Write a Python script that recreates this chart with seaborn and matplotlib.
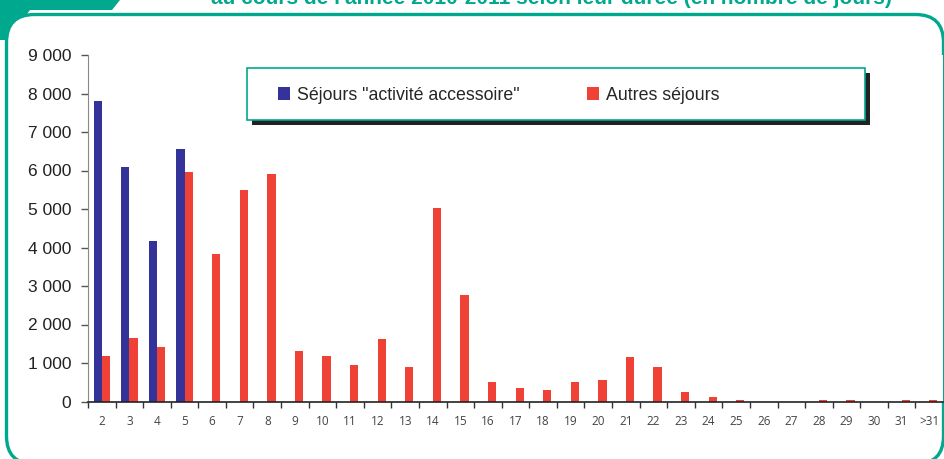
import numpy as np
import pandas as pd
import seaborn as sns
import matplotlib.pyplot as plt
from matplotlib.patches import FancyBboxPatch, Polygon, Rectangle, Patch
from matplotlib.transforms import IdentityTransform

# durée du séjour (en jours)
durees = ["2", "3", "4", "5", "6", "7", "8", "9", "10", "11", "12", "13", "14", "15", "16",
          "17", "18", "19", "20", "21", "22", "23", "24", "25", "26", "27", "28", "29", "30",
          "31", ">31"]
accessoire = [7800, 6100, 4170, 6560, 0, 0, 0, 0, 0, 0, 0, 0, 0, 0, 0,
              0, 0, 0, 0, 0, 0, 0, 0, 0, 0, 0, 0, 0, 0, 0, 0]
autres = [1190, 1650, 1420, 5960, 3840, 5500, 5910, 1310, 1180, 940, 1620, 890, 5020, 2760, 500,
          350, 290, 500, 550, 1160, 900, 250, 120, 40, 0, 0, 40, 40, 0, 40, 40]
series = ['Séjours "activité accessoire"', "Autres séjours"]
couleurs = ["#333399", "#EF4136"]
vert = "#00A88E"

df = pd.DataFrame({
    "duree": durees * 2,
    "nombre": accessoire + autres,
    "type": [series[0]] * len(durees) + [series[1]] * len(durees),
})

sns.set_style("white")
plt.rcParams["font.family"] = ["Liberation Sans", "DejaVu Sans"]

W, H = 944, 459
fig = plt.figure(figsize=(W / 100, H / 100), dpi=100)
ax = fig.add_axes([88 / W, 1 - 401.5 / H, 855 / W, 346.5 / H])

sns.barplot(data=df, x="duree", y="nombre", hue="type", order=durees,
            hue_order=series, palette=couleurs, width=0.6, saturation=1,
            linewidth=0, ax=ax, legend=False)

ax.set_xlim(-0.5, len(durees) - 0.5)
ax.set_ylim(0, 9000)
ax.set_xlabel("")
ax.set_ylabel("")
ax.set_yticks(range(0, 9001, 1000))
ax.set_yticklabels([f"{v:,}".replace(",", " ") for v in range(0, 9001, 1000)])
ax.tick_params(axis="y", length=5, width=1, color="#555555", labelsize=12.5,
               labelcolor="#222222", pad=7, left=True)
ax.set_xticks(np.arange(len(durees)) - 0.5, minor=True)
ax.tick_params(axis="x", which="minor", length=4, width=1, color="#333333", bottom=True)
ax.tick_params(axis="x", which="major", length=0, pad=10, labelsize=8.5,
               labelcolor="#444444")
for lab in ax.get_xticklabels():
    lab.set_family(["Open Sans", "DejaVu Sans"])
sns.despine(ax=ax)
ax.spines["left"].set_color("#888888")
ax.spines["bottom"].set_color("#222222")
ax.spines["bottom"].set_linewidth(1.2)

# légende encadrée avec ombre
px = IdentityTransform()
fig.add_artist(Rectangle((252, H - 125), 618, 52, transform=px,
                         facecolor="#222222", edgecolor="none", zorder=3))
fig.add_artist(Rectangle((247, H - 120), 618, 52, transform=px,
                         facecolor="white", edgecolor=vert, lw=1.2, zorder=3))
handles = [Patch(facecolor=c, edgecolor="none") for c in couleurs]
fig.legend(handles, series, loc="center left", ncol=2, frameon=False,
           bbox_to_anchor=(278 / W, 1 - 95 / H), fontsize=12.8,
           handlelength=0.7, handleheight=0.7, handletextpad=0.35,
           columnspacing=3.8, borderaxespad=0, borderpad=0).set_zorder(4)

# cadre vert
fig.add_artist(Polygon([(0, H), (120, H), (112, H - 10), (30, H - 10), (8, H - 40),
                        (0, H - 40)], closed=True, transform=px, facecolor=vert,
                       edgecolor="none", zorder=-2))
fig.add_artist(FancyBboxPatch((6.5, -5), 937, H - 8 + 5 - 6.5, transform=px,
                              boxstyle="round,pad=0,rounding_size=28",
                              facecolor="white", edgecolor=vert, lw=2.4, zorder=-1))
fig.text(551 / W, 1 - 4 / H,
         "au cours de l'année 2010-2011 selon leur durée (en nombre de jours)",
         ha="center", va="baseline", fontsize=15, fontweight="bold", color=vert)

fig.savefig("out.png", dpi=100)
